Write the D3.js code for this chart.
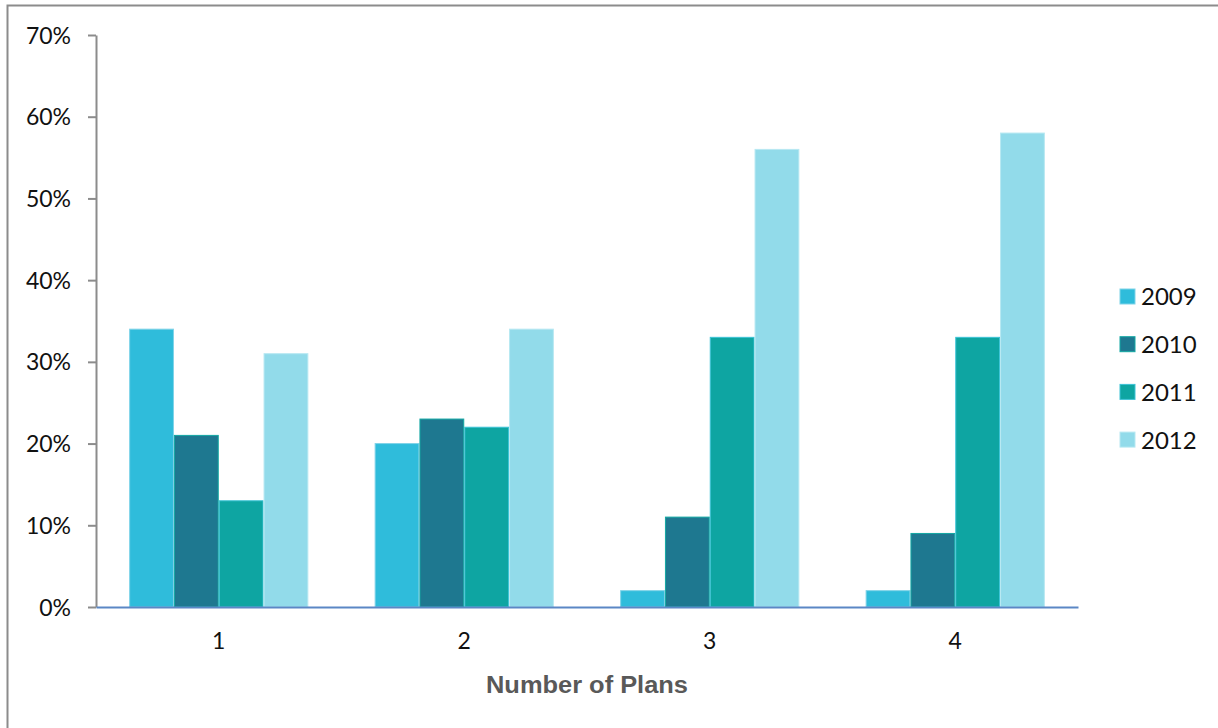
<!DOCTYPE html>
<html>
<head>
<meta charset="utf-8">
<script src="https://cdn.jsdelivr.net/npm/d3@7"></script>
<style>
  html, body { margin: 0; padding: 0; background: #fff; }
  svg { display: block; }
  text { font-family: Lato, "Open Sans", sans-serif; }
</style>
</head>
<body>
<svg id="chart" width="1218" height="728"></svg>
<script>
// Share of respondents by number of plans offered, per survey year
const categories = ["1", "2", "3", "4"];
const years = ["2009", "2010", "2011", "2012"];
const values2009 = [34, 20, 2, 2];
const values2010 = [21, 23, 11, 9];
const values2011 = [13, 22, 33, 33];
const values2012 = [31, 34, 56, 58];
const yTicks = [0, 10, 20, 30, 40, 50, 60, 70];
const seriesColors = ["#2fbcdb", "#1e7890", "#0ea5a2", "#92dbea"];
const seriesStrokes = ["#7fd3e8", "#12a8a3", "#3cc3d6", "#b7e8f2"];

const series = [values2009, values2010, values2011, values2012];

const svg = d3.select("#chart");
const margin = { left: 96, right: 1078, top: 35, bottom: 607 };

// outer frame (runs off the right and bottom edges)
svg.append("rect")
  .attr("x", 7.5).attr("y", 5.5)
  .attr("width", 1230).attr("height", 740)
  .attr("fill", "none").attr("stroke", "#8c8c8c").attr("stroke-width", 2);

const x0 = d3.scaleBand().domain(categories).range([margin.left, margin.right]).paddingInner(0.27).paddingOuter(0.135);
const x1 = d3.scaleBand().domain(years).range([0, x0.bandwidth()]).padding(0);
const y = d3.scaleLinear().domain([0, 70]).range([margin.bottom, margin.top]);

// y axis
const yAxis = d3.axisLeft(y).tickValues(yTicks).tickFormat(d => d + "%").tickSize(8).tickSizeOuter(0);
const gy = svg.append("g").attr("transform", `translate(${margin.left},0)`).call(yAxis);
gy.select(".domain").attr("stroke", "#8c8c8c").attr("stroke-width", 2);
gy.selectAll(".tick line").attr("stroke", "#8c8c8c").attr("stroke-width", 2);
gy.selectAll(".tick text").attr("x", -25).attr("font-size", 23).attr("fill", "#111").attr("dy", "0.35em");

// bars
const groups = svg.append("g").selectAll("g")
  .data(categories)
  .join("g")
  .attr("transform", d => `translate(${x0(d)},0)`);

groups.selectAll("rect")
  .data((c, i) => years.map((yr, s) => ({ yr, s, v: series[s][i] })))
  .join("rect")
  .attr("x", d => x1(d.yr) + 0.5)
  .attr("width", x1.bandwidth() - 1)
  .attr("y", d => y(d.v))
  .attr("height", d => y(0) - y(d.v))
  .attr("fill", d => seriesColors[d.s])
  .attr("stroke", d => seriesStrokes[d.s])
  .attr("stroke-width", 1);

// x axis baseline and labels
const xAxis = d3.axisBottom(x0).tickSize(0).tickSizeOuter(0);
const gx = svg.append("g").attr("transform", `translate(0,${margin.bottom})`).call(xAxis);
gx.select(".domain").attr("stroke", "#5b87c5").attr("stroke-width", 2);
gx.selectAll(".tick text").attr("y", 26).attr("font-size", 23).attr("fill", "#111");

// axis title
svg.append("text")
  .attr("x", 587).attr("y", 693)
  .attr("text-anchor", "middle")
  .style("font-family", "'Liberation Sans', Arial, sans-serif")
  .attr("font-size", 23).attr("font-weight", "bold").attr("fill", "#595959")
  .attr("textLength", 202).attr("lengthAdjust", "spacingAndGlyphs")
  .text("Number of Plans");

// legend
const legend = svg.append("g").selectAll("g")
  .data(years)
  .join("g")
  .attr("transform", (d, i) => `translate(1120,${297 + i * 47.7})`);
legend.append("rect")
  .attr("x", 0).attr("y", -8).attr("width", 15).attr("height", 15)
  .attr("fill", (d, i) => seriesColors[i])
  .attr("stroke", (d, i) => seriesStrokes[i]).attr("stroke-width", 1);
legend.append("text")
  .attr("x", 21).attr("y", 0).attr("dy", "0.35em")
  .attr("font-size", 24).attr("fill", "#111")
  .text(d => d);
</script>
</body>
</html>
